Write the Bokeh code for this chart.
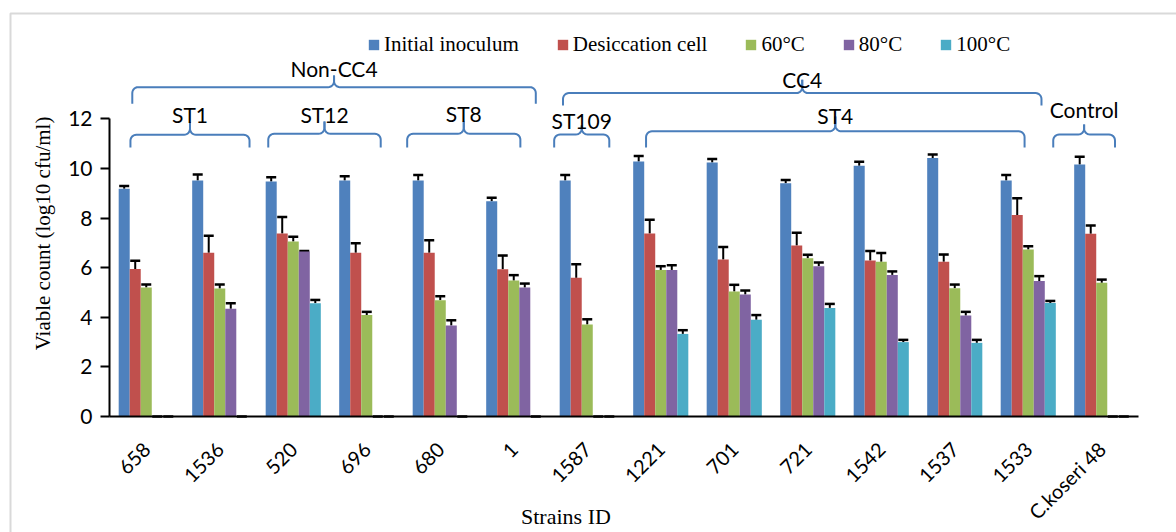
import math
import numpy as np
from bokeh.plotting import figure
from bokeh.models import (ColumnDataSource, Range1d, FixedTicker, Whisker, TeeHead,
                          Legend, LegendItem)
from bokeh.core.properties import value
from bokeh.embed import file_html
from bokeh.resources import INLINE

# ---------------- data ----------------
strains = ["658", "1536", "520", "696", "680", "1", "1587", "1221", "701", "721",
           "1542", "1537", "1533", "C.koseri 48"]
series_names = ["Initial inoculum", "Desiccation cell", "60°C", "80°C", "100°C"]

initial = [9.18, 9.52, 9.48, 9.52, 9.52, 8.68, 9.52, 10.28, 10.24, 9.41, 10.11, 10.42, 9.52, 10.16]
initial_err = [0.11, 0.24, 0.17, 0.17, 0.22, 0.14, 0.22, 0.22, 0.14, 0.13, 0.16, 0.14, 0.22, 0.31]
desiccation = [5.95, 6.60, 7.38, 6.60, 6.60, 5.94, 5.59, 7.38, 6.33, 6.90, 6.29, 6.24, 8.13, 7.37]
desiccation_err = [0.33, 0.69, 0.66, 0.39, 0.51, 0.55, 0.55, 0.55, 0.50, 0.51, 0.38, 0.29, 0.67, 0.33]
t60 = [5.20, 5.16, 7.06, 4.09, 4.69, 5.48, 3.71, 5.91, 5.04, 6.38, 6.24, 5.17, 6.73, 5.39]
t60_err = [0.12, 0.16, 0.19, 0.13, 0.16, 0.22, 0.21, 0.15, 0.27, 0.14, 0.35, 0.15, 0.14, 0.13]
t80 = [0.0, 4.34, 6.65, 0.0, 3.67, 5.20, 0.0, 5.91, 4.92, 6.06, 5.71, 4.07, 5.46, 0.0]
t80_err = [0.0, 0.23, 0.02, 0.0, 0.21, 0.16, 0.0, 0.19, 0.16, 0.15, 0.14, 0.15, 0.20, 0.0]
t100 = [0.0, 0.0, 4.57, 0.0, 0.0, 0.0, 0.0, 3.33, 3.90, 4.38, 3.00, 2.97, 4.58, 0.0]
t100_err = [0.0, 0.0, 0.13, 0.0, 0.0, 0.0, 0.0, 0.15, 0.19, 0.16, 0.09, 0.12, 0.08, 0.0]

y_ticks = [0, 2, 4, 6, 8, 10, 12]
group_labels = ["Non-CC4", "CC4", "ST1", "ST12", "ST8", "ST109", "ST4", "Control"]
y_title = "Viable count (log10 cfu/ml)"
x_title = "Strains ID"

# ---------------- layout / style constants ----------------
colors = ["#4F81BD", "#C0504D", "#9BBB59", "#8064A2", "#4BACC6"]
bar_w = 0.15
offsets = [-0.30, -0.15, 0.0, 0.15, 0.30]
bracket_color = "#4A7EBB"
# (left, right, y_line, y_end, y_tip, y_label) in axis units
bracket_geom = {
    "Non-CC4": (-0.19, 5.30, 13.28, 12.61, 13.75, 14.02),
    "CC4": (5.67, 12.18, 13.04, 12.54, 13.58, 13.59),
    "ST1": (-0.215, 1.405, 11.36, 10.85, 11.87, 12.18),
    "ST12": (1.66, 3.19, 11.40, 10.85, 11.90, 12.18),
    "ST8": (3.55, 5.09, 11.40, 10.85, 11.90, 12.22),
    "ST109": (5.55, 6.30, 11.37, 10.85, 11.73, 11.92),
    "ST4": (6.80, 11.95, 11.50, 10.85, 12.10, 12.12),
    "Control": (12.34, 13.18, 11.37, 10.85, 11.77, 12.38),
}
x_lo, x_hi = -1.983, 14.017   # whole canvas width mapped to category units
y_lo, y_hi = -4.677, 16.774   # whole canvas height mapped to value units

W, H = 1176, 532
p = figure(width=W, height=H, x_range=Range1d(x_lo, x_hi), y_range=Range1d(y_lo, y_hi),
           output_backend="svg", toolbar_location=None,
           min_border_left=0, min_border_right=0, min_border_top=0, min_border_bottom=0)
p.xgrid.visible = False
p.ygrid.visible = False
p.outline_line_color = None
p.background_fill_color = "white"
p.border_fill_color = "white"

# light chart-area border (left and top)
p.line(x=[-1.847, -1.847, x_hi], y=[y_lo, 16.25, 16.25], line_color="#D9D9D9", line_width=2)

vals = [initial, desiccation, t60, t80, t100]
errs = [initial_err, desiccation_err, t60_err, t80_err, t100_err]
idx = np.arange(len(strains))

renderers = []
for j in range(5):
    top = np.array(vals[j], dtype=float)
    err = np.array(errs[j], dtype=float)
    src = ColumnDataSource(dict(x=idx + offsets[j], top=top, upper=top + err))
    r = p.vbar(x="x", top="top", width=bar_w, source=src, fill_color=colors[j],
               line_color=None)
    renderers.append(r)
    wh = Whisker(source=src, base="x", lower="top", upper="upper",
                 line_color="black", line_width=2,
                 upper_head=TeeHead(size=10, line_color="black", line_width=2.5),
                 lower_head=None)
    p.add_layout(wh)

# curly brackets
def brace(L, R, y_line, y_end, y_tip):
    rx, ry = 0.08, 0.24
    mid = (L + R) / 2.0
    n = 8
    xs, ys = [L], [y_end]
    cx, cy = L + rx, y_line - ry
    for t in np.linspace(math.pi, math.pi / 2, n):
        xs.append(cx + rx * math.cos(t)); ys.append(cy + ry * math.sin(t))
    cx2, cy2 = mid - rx, y_line + ry
    for t in np.linspace(-math.pi / 2, 0, n):
        xs.append(cx2 + rx * math.cos(t)); ys.append(cy2 + ry * math.sin(t))
    xs.append(mid); ys.append(y_tip)
    xs2, ys2 = [mid], [y_tip]
    cx3, cy3 = mid + rx, y_line + ry
    for t in np.linspace(math.pi, 3 * math.pi / 2, n):
        xs2.append(cx3 + rx * math.cos(t)); ys2.append(cy3 + ry * math.sin(t))
    cx4, cy4 = R - rx, y_line - ry
    for t in np.linspace(math.pi / 2, 0, n):
        xs2.append(cx4 + rx * math.cos(t)); ys2.append(cy4 + ry * math.sin(t))
    xs2.append(R); ys2.append(y_end)
    return [xs, xs2], [ys, ys2]

all_xs, all_ys, lab_x, lab_y = [], [], [], []
for g in group_labels:
    L, R, yl, ye, yt, ylab = bracket_geom[g]
    xs, ys = brace(L, R, yl, ye, yt)
    all_xs += xs; all_ys += ys
    lab_x.append((L + R) / 2.0); lab_y.append(ylab)
p.multi_line(xs=all_xs, ys=all_ys, line_color=bracket_color, line_width=2)
p.text(x=lab_x, y=lab_y, text=group_labels, text_align="center", text_baseline="middle",
       text_font=value("Lato"), text_font_size="21px", text_color="black")

# axes (fixed inside the full-canvas frame)
xa = p.xaxis[0]
xa.fixed_location = 0
xa.bounds = (-0.5, len(strains) - 0.5)
xa.ticker = FixedTicker(ticks=list(range(len(strains))))
xa.major_label_overrides = {i: s for i, s in enumerate(strains)}
xa.major_label_orientation = math.radians(45)
xa.major_tick_line_color = None
xa.minor_tick_line_color = None
xa.axis_line_color = "black"
xa.axis_line_width = 2
xa.major_label_text_font = "Lato"
xa.major_label_text_font_size = "20px"
xa.major_label_text_color = "black"
xa.major_label_standoff = 23

ya = p.yaxis[0]
ya.fixed_location = -0.5
ya.ticker = FixedTicker(ticks=y_ticks)
ya.bounds = (0, 12)
ya.axis_line_color = "black"
ya.axis_line_width = 2
ya.major_tick_line_color = "black"
ya.major_tick_line_width = 2
ya.major_tick_out = 9
ya.major_tick_in = 0
ya.minor_tick_line_color = None
ya.major_label_text_font = "Lato"
ya.major_label_text_font_size = "21px"
ya.major_label_text_color = "black"
ya.major_label_standoff = 8

# axis titles as text
p.text(x=[-1.41], y=[7.38], text=[y_title], angle=math.pi / 2, text_align="center",
       text_baseline="middle", text_font=value("Liberation Serif"), text_font_size="21px",
       text_color="black")
p.text(x=[5.71], y=[-4.05], text=[x_title], text_align="center",
       text_baseline="middle", text_font=value("Liberation Serif"), text_font_size="22px",
       text_color="black")

legend = Legend(items=[LegendItem(label=value(n), renderers=[r]) for n, r in zip(series_names, renderers)],
                orientation="horizontal", location=(367, 475), padding=0, margin=0,
                spacing=37, label_standoff=4, glyph_width=13, glyph_height=13,
                label_text_font="Liberation Serif", label_text_font_size="21px",
                label_text_color="black", border_line_color=None, background_fill_alpha=0)
p.add_layout(legend)

open("out.html", "w").write(file_html(p, INLINE))
